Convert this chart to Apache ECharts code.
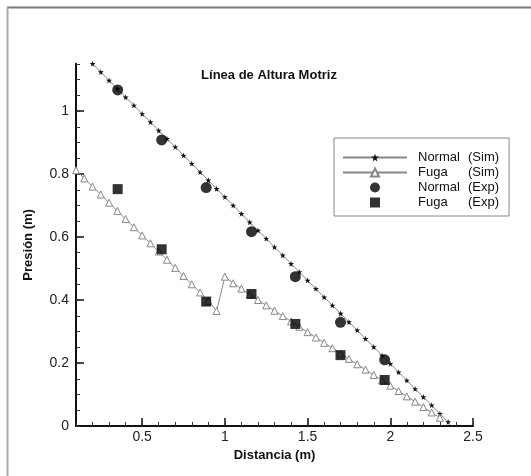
<!DOCTYPE html>
<html>
<head>
<meta charset="utf-8">
<script src="https://cdn.jsdelivr.net/npm/echarts@6/dist/echarts.min.js"></script>
<style>
html,body{margin:0;padding:0;background:#fff;}
#chart{width:531px;height:476px;}
</style>
</head>
<body>
<div id="chart"></div>
<script>
// ---- data ----
const titleText = 'Línea de Altura Motriz';
const xName = 'Distancia (m)';
const yName = 'Presión (m)';
const seriesNames = ['Normal (Sim)', 'Fuga (Sim)', 'Normal (Exp)', 'Fuga (Exp)'];

const xTickLabels = [0.5, 1, 1.5, 2, 2.5];
const yTickLabels = [0, 0.2, 0.4, 0.6, 0.8, 1];

const normalSimX = [0.20,0.25,0.30,0.35,0.40,0.45,0.50,0.55,0.60,0.65,0.70,0.75,0.80,0.85,0.90,0.95,1.00,1.05,1.10,1.15,1.20,1.25,1.30,1.35,1.40,1.45,1.50,1.55,1.60,1.65,1.70,1.75,1.80,1.85,1.90,1.95,2.00,2.05,2.10,2.15,2.20,2.25,2.30,2.35];
const normalSimY = [1.150,1.124,1.097,1.071,1.044,1.018,0.991,0.965,0.938,0.912,0.886,0.859,0.833,0.806,0.780,0.753,0.727,0.700,0.674,0.647,0.621,0.595,0.568,0.542,0.515,0.489,0.462,0.436,0.409,0.383,0.357,0.330,0.304,0.277,0.251,0.224,0.198,0.171,0.145,0.118,0.092,0.066,0.039,0.013];

const fugaSimX = [0.10,0.15,0.20,0.25,0.30,0.35,0.40,0.45,0.50,0.55,0.60,0.65,0.70,0.75,0.80,0.85,0.90,0.95,1.00,1.05,1.10,1.15,1.20,1.25,1.30,1.35,1.40,1.45,1.50,1.55,1.60,1.65,1.70,1.75,1.80,1.85,1.90,1.95,2.00,2.05,2.10,2.15,2.20,2.25,2.30];
const fugaSimY = [0.812,0.786,0.760,0.735,0.709,0.683,0.657,0.631,0.605,0.580,0.554,0.528,0.502,0.476,0.450,0.424,0.397,0.365,0.474,0.453,0.436,0.418,0.400,0.383,0.366,0.349,0.332,0.315,0.298,0.281,0.264,0.247,0.230,0.213,0.196,0.179,0.162,0.145,0.128,0.111,0.094,0.077,0.060,0.043,0.026];

const expX = [0.352,0.618,0.887,1.161,1.426,1.699,1.966];
const normalExpY = [1.067,0.908,0.757,0.617,0.474,0.329,0.210];
const fugaExpY = [0.752,0.561,0.395,0.419,0.324,0.225,0.146];

// ---- build ----
const zip = (xs, ys) => xs.map((x, i) => [x, ys[i]]);
const star = 'path://M50,0 L61,35 L98,35 L68,57 L79,91 L50,70 L21,91 L32,57 L2,35 L39,35 Z';
const square = 'path://M0,0 L10,0 L10,10 L0,10 Z';
const FONT = 'Arial, "Liberation Sans", Helvetica, sans-serif';

const chart = echarts.init(document.getElementById('chart'), null, {renderer: 'canvas'});
chart.setOption({
  animation: false,
  backgroundColor: '#fff',
  title: {
    text: titleText, left: 269, top: 69, textAlign: 'center', padding: 0,
    textStyle: {fontSize: 13, fontWeight: 'bold', fontFamily: FONT, color: '#111'}
  },
  grid: {left: 76, right: 58, top: 63.75, bottom: 50, containLabel: false},
  legend: {
    orient: 'vertical', left: 334, top: 138,
    padding: [13, 10, 7, 8],
    borderColor: '#888', borderWidth: 1,
    itemWidth: 64, itemHeight: 10, itemGap: 2,
    symbolKeepAspect: true,
    data: [
      {name: seriesNames[0]},
      {name: seriesNames[1]},
      {name: seriesNames[2], icon: 'circle'},
      {name: seriesNames[3], icon: square}
    ],
    formatter: name => {
      const i = name.indexOf(' (');
      return '{a|' + name.slice(0, i) + '}{b|' + name.slice(i + 1) + '}';
    },
    textStyle: {
      fontFamily: FONT, fontSize: 13, color: '#111', padding: [0, 0, 0, 6], lineHeight: 10,
      rich: {
        a: {width: 50, fontFamily: FONT, fontSize: 13, color: '#111', lineHeight: 10},
        b: {fontFamily: FONT, fontSize: 13, color: '#111', lineHeight: 10}
      }
    }
  },
  xAxis: [
    {
      type: 'value', min: 0.1, max: 2.5, position: 'bottom', offset: 0,
      name: xName, nameLocation: 'middle', nameGap: 23,
      nameTextStyle: {fontSize: 13, fontWeight: 'bold', fontFamily: FONT, color: '#111'},
      axisLine: {show: true, lineStyle: {color: '#111', width: 2}},
      axisTick: {show: true, inside: true, length: 8, customValues: xTickLabels, lineStyle: {color: '#111', width: 1.5}},
      axisLabel: {customValues: xTickLabels, margin: 4, fontSize: 14, fontFamily: FONT, color: '#222'},
      splitLine: {show: false}
    },
    {
      type: 'value', min: 0.1, max: 2.5, interval: 0.1, position: 'bottom', offset: 0,
      axisLine: {show: false},
      axisTick: {show: true, inside: true, length: 4, lineStyle: {color: '#333', width: 1}},
      axisLabel: {show: false},
      splitLine: {show: false}
    }
  ],
  yAxis: [
    {
      type: 'value', min: 0, max: 1.15, position: 'left', offset: 0,
      name: yName, nameLocation: 'middle', nameGap: 41, nameRotate: 90,
      nameTextStyle: {fontSize: 13, fontWeight: 'bold', fontFamily: FONT, color: '#111'},
      axisLine: {show: true, lineStyle: {color: '#111', width: 2}},
      axisTick: {show: true, inside: true, length: 8, customValues: yTickLabels, lineStyle: {color: '#111', width: 1.5}},
      axisLabel: {customValues: yTickLabels, margin: 7, fontSize: 14, fontFamily: FONT, color: '#222'},
      splitLine: {show: false}
    },
    {
      type: 'value', min: 0, max: 1.15, interval: 0.05, position: 'left', offset: 0,
      axisLine: {show: false},
      axisTick: {show: true, inside: true, length: 4, lineStyle: {color: '#333', width: 1}},
      axisLabel: {show: false},
      splitLine: {show: false}
    }
  ],
  series: [
    {
      name: seriesNames[0], type: 'line', xAxisIndex: 0, yAxisIndex: 0,
      data: zip(normalSimX, normalSimY), clip: false,
      symbol: star, symbolSize: 6, showAllSymbol: true,
      lineStyle: {color: '#888', width: 1},
      itemStyle: {color: '#111', borderWidth: 0}, z: 2
    },
    {
      name: seriesNames[1], type: 'line', xAxisIndex: 0, yAxisIndex: 0,
      data: zip(fugaSimX, fugaSimY), clip: false,
      symbol: 'triangle', symbolSize: 7, showAllSymbol: true,
      lineStyle: {color: '#888', width: 1},
      itemStyle: {color: '#fff', borderColor: '#888', borderWidth: 1}, z: 2
    },
    {
      name: seriesNames[2], type: 'scatter', xAxisIndex: 0, yAxisIndex: 0,
      data: zip(expX, normalExpY), symbol: 'circle', symbolSize: 11,
      itemStyle: {color: '#000'}, z: 3
    },
    {
      name: seriesNames[3], type: 'scatter', xAxisIndex: 0, yAxisIndex: 0,
      data: zip(expX, fugaExpY), symbol: square, symbolSize: 10, symbolKeepAspect: true,
      itemStyle: {color: '#000'}, z: 3
    }
  ],
  graphic: [
    {type: 'line', shape: {x1: 7, y1: 7.5, x2: 531, y2: 7.5}, style: {stroke: '#777', lineWidth: 2}, silent: true},
    {type: 'line', shape: {x1: 7.5, y1: 7, x2: 7.5, y2: 476}, style: {stroke: '#aaa', lineWidth: 2}, silent: true}
  ]
});
</script>
</body>
</html>
